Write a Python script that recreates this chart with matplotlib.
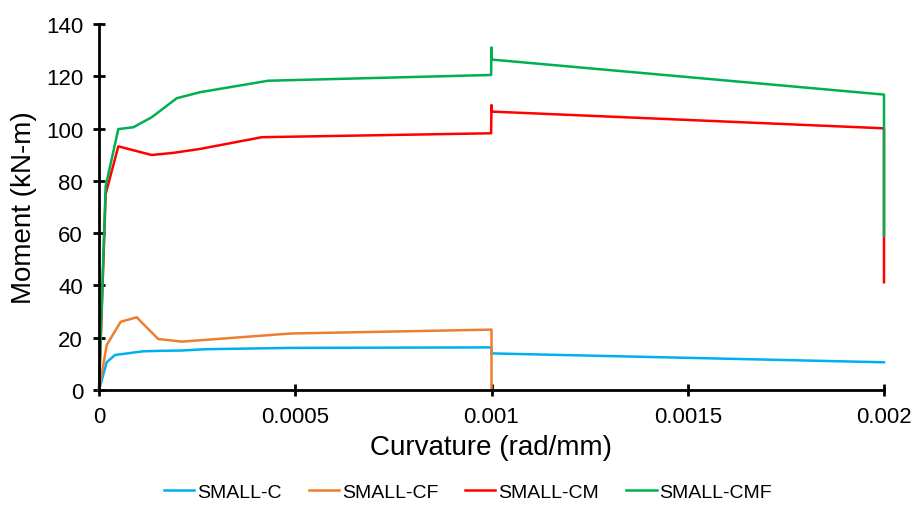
import matplotlib.pyplot as plt

plt.rcParams['font.family'] = ['Liberation Sans', 'DejaVu Sans']

# Moment-curvature data
c_x = [0, 0.0000196, 0.0000408, 0.000113, 0.00016, 0.000211, 0.00027, 0.000487, 0.001, 0.001, 0.002]
c_y = [0, 10.6, 13.4, 14.8, 15.0, 15.1, 15.6, 16.1, 16.3, 14.0, 10.6]

cf_x = [0, 0.0000196, 0.0000552, 0.000096, 0.000151, 0.000211, 0.000487, 0.001, 0.001]
cf_y = [0, 17.2, 26.1, 27.8, 19.5, 18.5, 21.6, 23.1, 0]

cm_x = [0, 0.000017, 0.0000492, 0.000134, 0.000189, 0.000257, 0.000415, 0.000999, 0.001, 0.001, 0.002, 0.002]
cm_y = [0, 75, 93.2, 89.9, 90.7, 92.2, 96.7, 98.2, 109, 106.5, 100.1, 41.2]

cmf_x = [0, 0.000017, 0.0000492, 0.0000875, 0.000134, 0.000198, 0.000257, 0.000431, 0.000999, 0.001, 0.001, 0.002, 0.002]
cmf_y = [0, 78, 99.8, 100.5, 104.3, 111.6, 113.9, 118.3, 120.5, 131, 126.4, 113, 59]

series = [
    ('SMALL-C', c_x, c_y, '#00B0F0'),
    ('SMALL-CF', cf_x, cf_y, '#ED7D31'),
    ('SMALL-CM', cm_x, cm_y, '#FF0000'),
    ('SMALL-CMF', cmf_x, cmf_y, '#00B050'),
]

fig = plt.figure(figsize=(9.15, 5.06), dpi=100)
ax = fig.add_axes([99 / 915, 1 - 391 / 506, (884 - 99) / 915, (391 - 25) / 506])

for name, xs, ys, col in series:
    ax.plot(xs, ys, color=col, lw=1.8, label=name, clip_on=False)

ax.set_xlim(0, 0.002)
ax.set_ylim(0, 140)
ax.set_xticks([0, 0.0005, 0.001, 0.0015, 0.002])
ax.set_xticklabels(['0', '0.0005', '0.001', '0.0015', '0.002'])
ax.set_yticks(range(0, 141, 20))

for side in ['top', 'right']:
    ax.spines[side].set_visible(False)
for side in ['left', 'bottom']:
    ax.spines[side].set_linewidth(2)
ax.tick_params(direction='inout', length=9, width=2, labelsize=16, pad=7)

ax.set_xlabel('Curvature (rad/mm)', fontsize=20, labelpad=5)
ax.set_ylabel('Moment (kN-m)', fontsize=20, labelpad=6)

fig.legend(loc='center', bbox_to_anchor=(468 / 915, 1 - 493 / 506), ncol=4, frameon=False,
           fontsize=14, handlelength=1.55, handletextpad=0.15, columnspacing=1.4)

fig.savefig('out.png', dpi=100)
